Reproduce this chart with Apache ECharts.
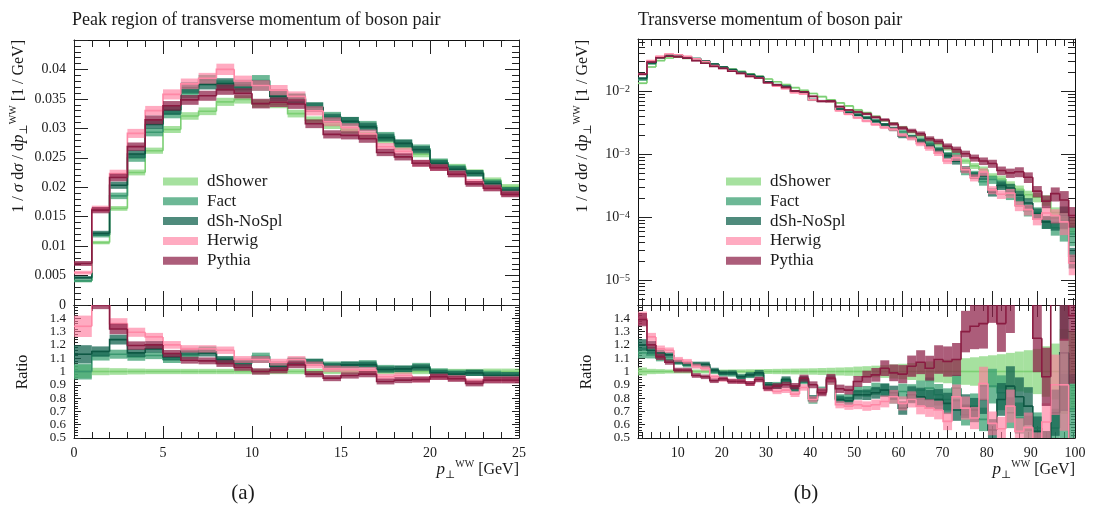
<!DOCTYPE html>
<html>
<head>
<meta charset="utf-8">
<script src="https://cdn.jsdelivr.net/npm/echarts@6/dist/echarts.min.js"></script>
<style>
  html, body { margin: 0; padding: 0; background: #fff; }
  #chart { width: 1093px; height: 506px; }
</style>
</head>
<body>
<div id="chart"></div>
<script>
// ---------- data ----------
const names = ["dShower", "Fact", "dSh-NoSpl", "Herwig", "Pythia"];

// (a) peak region, 1 GeV bins
const leftEdges = [0, 1, 2, 3, 4, 5, 6, 7, 8, 9, 10, 11, 12, 13, 14, 15, 16, 17, 18, 19, 20, 21, 22, 23, 24, 25];
const leftRef = [0.0041, 0.0106, 0.0164, 0.0225, 0.0262, 0.0298, 0.0321, 0.0329, 0.0345, 0.0349, 0.0342, 0.0341, 0.0325,
  0.0314, 0.0305, 0.0297, 0.0288, 0.0280, 0.0269, 0.0256, 0.0243, 0.0235, 0.0226, 0.0212, 0.0201];
const leftRatioFact = [1.00, 1.12, 1.13, 1.11, 1.12, 1.09, 1.12, 1.16, 1.08, 1.06, 1.115, 1.05, 1.08, 1.07, 1.05, 1.05,
  1.06, 1.025, 1.02, 1.04, 1.00, 0.99, 0.99, 0.98, 0.97];
const leftRatioNoSpl = [1.13, 1.15, 1.24, 1.14, 1.17, 1.11, 1.15, 1.14, 1.09, 1.07, 1.09, 1.04, 1.075, 1.07, 1.04, 1.05,
  1.05, 1.015, 1.02, 1.03, 0.99, 0.98, 0.99, 0.97, 0.97];
const leftRatioHerwig = [1.34, 1.54, 1.36, 1.295, 1.26, 1.20, 1.17, 1.17, 1.16, 1.09, 1.09, 1.07, 1.09, 1.05, 1.02, 1.015,
  1.01, 0.96, 0.97, 0.94, 0.96, 0.95, 0.925, 0.94, 0.94];
const leftRatioPythia = [1.72, 1.52, 1.32, 1.195, 1.20, 1.135, 1.085, 1.08, 1.06, 1.03, 1.00, 1.01, 1.05, 0.98, 0.95, 0.97,
  0.98, 0.925, 0.935, 0.94, 0.96, 0.945, 0.91, 0.935, 0.935];
const leftRelErr = [0.05, 0.028, 0.025, 0.022, 0.02, 0.02, 0.02, 0.02, 0.02, 0.02, 0.02, 0.02, 0.02, 0.02, 0.02, 0.02,
  0.02, 0.02, 0.02, 0.02, 0.02, 0.02, 0.02, 0.022, 0.022];

// (b) full range, 2 GeV bins
const rightEdges = [1, 3, 5, 7, 9, 11, 13, 15, 17, 19, 21, 23, 25, 27, 29, 31, 33, 35, 37, 39, 41, 43, 45, 47, 49,
  51, 53, 55, 57, 59, 61, 63, 65, 67, 69, 71, 73, 75, 77, 79, 81, 83, 85, 87, 89, 91, 93, 95, 97, 99];
const rightRef = [0.0135, 0.0245, 0.0309, 0.0339, 0.0351, 0.0335, 0.0316, 0.0292, 0.0269, 0.0246, 0.0226, 0.0209,
  0.0191, 0.0174, 0.0158, 0.0143, 0.0129, 0.0115, 0.0104, 0.0093, 0.0083, 0.0074, 0.0066, 0.0059, 0.0051, 0.0046,
  0.0040, 0.00347, 0.00309, 0.00269, 0.00229, 0.00200, 0.00174, 0.00148, 0.00126, 0.00110, 0.00079, 0.00066,
  0.00058, 0.00045, 0.00041, 0.00033, 0.00028, 0.00023, 0.00021, 0.00019, 0.00012, 0.000095, 0.000076];
const rightRatioFact = [1.14, 1.125, 1.10, 1.09, 1.07, 1.05, 1.05, 1.04, 1.00, 0.98, 0.98, 0.96, 0.97, 0.975, 0.90,
  0.90, 0.93, 0.87, 0.93, 0.78, 0.86, 0.93, 0.80, 0.80, 0.85, 0.85, 0.87, 0.86, 0.81, 0.85, 0.84, 0.86, 0.875, 0.825,
  0.79, 0.875, 0.675, 0.74, 0.64, 0.89, 0.84, 0.69, 0.65, 0.56, 0.575, 0.45, 0.575, 0.71, 0.72];
const rightRatioNoSpl = [1.20, 1.16, 1.14, 1.125, 1.075, 1.06, 1.055, 1.055, 1.01, 0.99, 0.99, 0.96, 0.975, 0.99, 0.90,
  0.89, 0.94, 0.875, 0.94, 0.80, 0.85, 0.94, 0.79, 0.78, 0.825, 0.825, 0.84, 0.86, 0.84, 0.725, 0.825, 0.81, 0.79, 0.79,
  0.76, 0.71, 0.74, 0.71, 0.79, 0.56, 0.79, 0.89, 0.81, 0.74, 0.55, 0.45, 0.69, 1.14, 0.32];
const rightRatioHerwig = [1.40, 1.26, 1.17, 1.16, 1.09, 1.075, 1.04, 1.025, 0.96, 0.94, 0.93, 0.925, 0.91, 0.94, 0.87,
  0.85, 0.86, 0.83, 0.88, 0.79, 0.85, 0.93, 0.75, 0.74, 0.75, 0.74, 0.75, 0.775, 0.81, 0.76, 0.79, 0.74, 0.725, 0.71,
  0.625, 0.81, 0.725, 0.65, 0.91, 0.61, 0.57, 0.74, 0.55, 0.58, 0.45, 0.62, 0.90, 0.90, 0.25];
const rightRatioPythia = [1.39, 1.20, 1.11, 1.07, 1.01, 1.01, 0.97, 0.96, 0.93, 0.945, 0.925, 0.925, 0.91, 0.94, 0.875,
  0.89, 0.90, 0.89, 0.95, 0.90, 0.84, 0.95, 0.87, 0.86, 0.925, 0.96, 0.975, 1.025, 0.99, 0.98, 1.04, 1.07, 1.025, 1.09,
  1.075, 1.09, 1.30, 1.34, 1.36, 1.60, 1.36, 1.55, 1.90, 1.90, 1.25, 0.96, 2.00, 2.00, 1.42];
const rightRelErr = [0.03, 0.02, 0.018, 0.015, 0.015, 0.015, 0.015, 0.015, 0.015, 0.015, 0.016, 0.016, 0.017, 0.018,
  0.019, 0.02, 0.021, 0.022, 0.023, 0.024, 0.026, 0.028, 0.03, 0.032, 0.037, 0.04, 0.044, 0.048, 0.053, 0.058, 0.064,
  0.07, 0.076, 0.082, 0.088, 0.095, 0.1, 0.107, 0.115, 0.122, 0.13, 0.14, 0.15, 0.16, 0.17, 0.19, 0.21, 0.32, 0.3];

// tick positions
const rightMajorX = [10, 20, 30, 40, 50, 60, 70, 80, 90];
const rightMinorX = [2, 4, 6, 8, 12, 14, 16, 18, 22, 24, 26, 28, 32, 34, 36, 38, 42, 44, 46, 48, 52, 54, 56, 58,
  62, 64, 66, 68, 72, 74, 76, 78, 82, 84, 86, 88, 92, 94, 96, 98];
const rightLabelX = [10, 20, 30, 40, 50, 60, 70, 80, 90, 100];
const logMin = 4.1e-6, logMax = 0.068;

// ---------- styles ----------
const FONT = '"Liberation Serif", "DejaVu Serif", serif';
const TXT = "#1a1a1a";
const bandColors = ["rgba(132,214,122,0.72)", "rgba(60,160,115,0.75)", "rgba(20,100,80,0.75)",
  "rgba(255,120,155,0.62)", "rgba(140,30,70,0.72)"];
const lineColors = ["#7ccf74", "#3a9870", "#0e5844", "#ff88a6", "#8a1c42"];
const errScale = [1, 1.2, 1.2, 1.2, 1.2];

// ---------- helpers ----------
function stepData(edges, vals, err, scale) {
  return vals.map((v, i) => [edges[i], edges[i + 1], v, v * (1 - err[i] * scale), v * (1 + err[i] * scale),
    i > 0 ? vals[i - 1] : -1]);
}

function stepRenderer(j) {
  return function (params, api) {
    const x0 = api.value(0), x1 = api.value(1), v = api.value(2);
    const lo = api.value(3), hi = api.value(4), pv = api.value(5);
    const a = api.coord([x0, hi]), b = api.coord([x1, lo]);
    const c0 = api.coord([x0, v]), c1 = api.coord([x1, v]);
    const pts = [];
    if (pv > 0) pts.push(api.coord([x0, pv]));
    pts.push(c0, c1);
    return {
      type: "group",
      children: [
        { type: "rect", shape: { x: a[0], y: a[1], width: b[0] - a[0], height: b[1] - a[1] },
          style: { fill: bandColors[j] } },
        { type: "polyline", shape: { points: pts },
          style: { stroke: lineColors[j], lineWidth: 1.6, fill: null } }
      ]
    };
  };
}

function valAxis(grid, pos, min, max, interval, major, minor, labels, extra) {
  return Object.assign({
    type: "value", gridIndex: grid, position: pos, min: min, max: max, interval: interval,
    axisLine: { show: true, onZero: false, lineStyle: { color: "#111", width: 1 } },
    axisTick: { show: true, inside: true, length: major, lineStyle: { color: "#222" } },
    minorTick: { show: true, splitNumber: 5, length: minor, lineStyle: { color: "#222" } },
    axisLabel: { show: labels, margin: 8, fontFamily: FONT, fontSize: 14, color: TXT, hideOverlap: false },
    splitLine: { show: false }, minorSplitLine: { show: false }
  }, extra || {});
}

// axis with ticks only at given values (decoration / overlays)
function tickAxis(grid, pos, min, max, ticks, len, showLine) {
  return {
    type: "value", gridIndex: grid, position: pos, min: min, max: max,
    axisLine: { show: showLine, onZero: false, lineStyle: { color: "#111", width: 1 } },
    axisTick: { show: true, inside: true, length: len, customValues: ticks, lineStyle: { color: "#222" } },
    axisLabel: { show: false }, splitLine: { show: false }
  };
}

const minorLog = [];
for (let e = -6; e <= -2; e++) {
  for (let k = 2; k <= 9; k++) minorLog.push(Math.log10(k * Math.pow(10, e)));
}
const lgMin = Math.log10(logMin), lgMax = Math.log10(logMax);

function logAxis(pos, labels) {
  return {
    type: "log", logBase: 10, gridIndex: 2, position: pos, min: logMin, max: logMax,
    axisLine: { show: true, onZero: false, lineStyle: { color: "#111", width: 1 } },
    axisTick: { show: true, inside: true, length: 14, lineStyle: { color: "#222" } },
    minorTick: { show: false },
    axisLabel: {
      show: labels, margin: 8, fontFamily: FONT, fontSize: 14, color: TXT, hideOverlap: false,
      formatter: function (v) {
        const l = Math.log10(v), e = Math.round(l);
        if (Math.abs(l - e) > 1e-6) return "";
        return "10{s|\u2212" + (-e) + "}";
      },
      rich: { s: { fontFamily: FONT, fontSize: 10, color: TXT, verticalAlign: "top", lineHeight: 10, padding: [0, 0, 8, 0] } }
    },
    splitLine: { show: false }
  };
}

// ---------- axes ----------
const xAxes = [
  // left main
  valAxis(0, "bottom", 0, 25, 5, 14, 7, false),
  valAxis(0, "top", 0, 25, 5, 14, 7, false),
  // left ratio
  valAxis(1, "bottom", 0, 25, 5, 12, 6, true),
  valAxis(1, "top", 0, 25, 5, 12, 6, false),
  // right main
  tickAxis(2, "bottom", 1, 98.4, rightMajorX, 14, true),
  tickAxis(2, "bottom", 1, 98.4, rightMinorX, 7, false),
  tickAxis(2, "top", 1, 98.4, rightMajorX, 14, true),
  tickAxis(2, "top", 1, 98.4, rightMinorX, 7, false),
  // right ratio
  tickAxis(3, "bottom", 1, 98.4, rightMajorX, 12, true),
  tickAxis(3, "bottom", 1, 98.4, rightMinorX, 6, false),
  tickAxis(3, "top", 1, 98.4, rightMajorX, 12, true),
  tickAxis(3, "top", 1, 98.4, rightMinorX, 6, false),
  {
    type: "value", gridIndex: 3, position: "bottom", min: 1, max: 100,
    axisLine: { show: false, onZero: false }, axisTick: { show: false }, splitLine: { show: false },
    axisLabel: { show: true, margin: 8, fontFamily: FONT, fontSize: 14, color: TXT, customValues: rightLabelX, hideOverlap: false }
  }
];

const yAxes = [
  valAxis(0, "left", 0, 0.045, 0.005, 14, 7, true, {}),
  valAxis(0, "right", 0, 0.045, 0.005, 14, 7, false),
  valAxis(1, "left", 0.5, 1.5, 0.1, 7, 4, true),
  valAxis(1, "right", 0.5, 1.5, 0.1, 7, 4, false),
  logAxis("left", true),
  tickAxis(2, "left", lgMin, lgMax, minorLog, 7, false),
  logAxis("right", false),
  tickAxis(2, "right", lgMin, lgMax, minorLog, 7, false),
  valAxis(3, "left", 0.5, 1.5, 0.1, 7, 4, true),
  valAxis(3, "right", 0.5, 1.5, 0.1, 7, 4, false)
];
yAxes[0].axisLabel.showMaxLabel = false;
yAxes[2].axisLabel.showMaxLabel = false;
yAxes[2].axisLabel.fontSize = 13;
yAxes[8].axisLabel.showMaxLabel = false;
yAxes[8].axisLabel.fontSize = 13;

// ---------- series ----------
const leftRatios = [leftRef.map(v => v / v), leftRatioFact, leftRatioNoSpl, leftRatioHerwig, leftRatioPythia];
const rightRatios = [rightRef.map(v => v / v), rightRatioFact, rightRatioNoSpl, rightRatioHerwig, rightRatioPythia];

const series = [];
function addPanel(edges, ref, ratios, err, xMain, yMain, xRatio, yRatio) {
  names.forEach((name, j) => {
    const main = ref.map((v, i) => v * ratios[j][i]);
    const common = {
      type: "custom", name: name, clip: true, silent: true,
      itemStyle: { color: bandColors[j] },
      renderItem: stepRenderer(j),
      encode: { x: [0, 1], y: [2, 3, 4] }
    };
    series.push(Object.assign({}, common, { xAxisIndex: xMain, yAxisIndex: yMain,
      data: stepData(edges, main, err, errScale[j]) }));
    series.push(Object.assign({}, common, { xAxisIndex: xRatio, yAxisIndex: yRatio,
      data: stepData(edges, ratios[j], err, errScale[j]) }));
  });
}
addPanel(leftEdges, leftRef, leftRatios, leftRelErr, 0, 0, 2, 2);
addPanel(rightEdges, rightRef, rightRatios, rightRelErr, 4, 4, 8, 8);

// ---------- texts ----------
const T = (x, y, text, size, extra) => Object.assign({
  type: "text", x: x, y: y, silent: true,
  style: Object.assign({ text: text, fontFamily: FONT, fontSize: size, fill: TXT, verticalAlign: "middle" }, extra || {})
});
const richName = {
  i: { fontFamily: FONT, fontSize: 17, fontStyle: "italic", fill: TXT },
  s: { fontFamily: FONT, fontSize: 11, fill: TXT, verticalAlign: "bottom" },
  u: { fontFamily: FONT, fontSize: 10, fill: TXT, verticalAlign: "top" }
};
function yName(x) {
  return {
    type: "text", x: x, y: 40, rotation: Math.PI / 2, silent: true,
    style: {
      text: "1 / {i|σ} d{i|σ} / d{i|p}{s|⊥}{u|WW} [1 / GeV]", align: "right", verticalAlign: "middle",
      fontFamily: FONT, fontSize: 16, fill: TXT, lineHeight: 22, rich: richName
    }
  };
}
function xName(x) {
  return {
    type: "text", x: x, y: 470, silent: true,
    style: {
      text: "{i|p}{s|⊥}{u|WW} [GeV]", align: "right", verticalAlign: "middle",
      fontFamily: FONT, fontSize: 16, fill: TXT, lineHeight: 22, rich: richName
    }
  };
}

const graphic = [
  T(72, 20, "Peak region of transverse momentum of boson pair", 18),
  T(638, 20, "Transverse momentum of boson pair", 18),
  yName(19),
  yName(583),
  Object.assign(T(23, 372, "Ratio", 16, { align: "center" }), { rotation: Math.PI / 2 }),
  Object.assign(T(587, 372, "Ratio", 16, { align: "center" }), { rotation: Math.PI / 2 }),
  xName(519),
  xName(1075),
  T(243, 493, "(a)", 21, { align: "center" }),
  T(806, 493, "(b)", 21, { align: "center" })
];

// ---------- chart ----------
const legendBase = {
  data: names, orient: "vertical", top: 168, itemWidth: 35, itemHeight: 8, itemGap: 2.8, icon: "rect",
  selectedMode: false,
  textStyle: { fontFamily: FONT, fontSize: 17, color: TXT, lineHeight: 16, padding: [0, 0, 0, 4] }
};

const chart = echarts.init(document.getElementById("chart"), null, { renderer: "canvas" });
chart.setOption({
  animation: false,
  backgroundColor: "#fff",
  grid: [
    { left: 74, top: 40, width: 445, height: 265 },
    { left: 74, top: 305, width: 445, height: 133 },
    { left: 638, top: 39, width: 437, height: 266 },
    { left: 638, top: 305, width: 437, height: 133 }
  ],
  legend: [
    Object.assign({}, legendBase, { left: 158 }),
    Object.assign({}, legendBase, { left: 721 })
  ],
  xAxis: xAxes,
  yAxis: yAxes,
  series: series,
  graphic: graphic
});
</script>
</body>
</html>
